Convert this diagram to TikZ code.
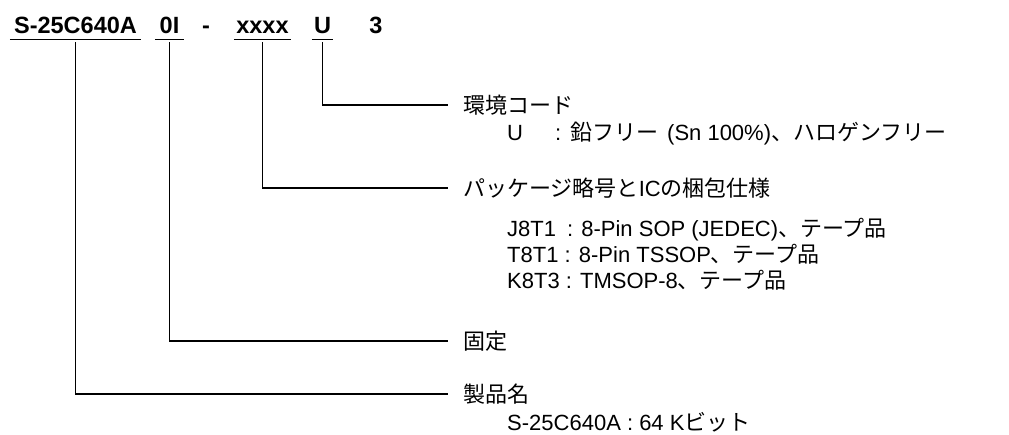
\documentclass[tikz,border=0pt]{standalone}
\usepackage{fontspec}
\setmainfont{Liberation Sans}
\newfontfamily\jp{Noto Sans CJK JP}
\usetikzlibrary{positioning}

\tikzset{
  part/.style={font=\fontsize{23.5}{28}\selectfont\bfseries, inner sep=0pt, anchor=base},
  lbl/.style={font=\fontsize{22}{26}\selectfont, anchor=west, inner ysep=0pt, inner xsep=15pt},
  sub/.style={font=\fontsize{22}{26}\selectfont, anchor=base west, inner sep=0pt},
  lead/.style={line width=1.6pt}
}

\begin{document}
\begin{tikzpicture}[x=1pt,y=-1pt]
\useasboundingbox (0,0) rectangle (1009,434);

% part number
\node[part, minimum width=131pt] (name) at (75.5,33){S-25C640A};
\node[part, minimum width=29pt] (fix) at (169.5,33){0I};
\node[part] (dash) at (206,33){-};
\node[part, minimum width=57pt] (pkg) at (262.5,33){xxxx};
\node[part, minimum width=21pt] (env) at (322.5,33){U};
\node[part] (rev) at (376,33){3};

\foreach \p in {name,fix,pkg,env}
  \draw[lead] ([yshift=-6.5pt]\p.base west) -- ([yshift=-6.5pt]\p.base east);

% labels
\node[lbl] (envl) at (448,105){\jp 環境コード};
\node[sub] (envu) at (507,140){U\hspace{32pt}:\hspace{9pt}{\jp 鉛フリー}\hspace{9pt}(Sn 100\%){\jp 、ハロゲンフリー}};

\node[lbl] (pkgl) at (448,188){{\jp パッケージ略号と}IC{\jp の梱包仕様}};
\node[sub] (pkga) at (507,236){J8T1\hspace{0.5em}: 8-Pin SOP (JEDEC){\jp 、テープ品}};
\node[sub] (pkgb) at (507,262){T8T1 : 8-Pin TSSOP{\jp 、テープ品}};
\node[sub] (pkgc) at (507,288){K8T3 : TMSOP-8{\jp 、テープ品}};

\node[lbl] (fixl) at (448,341){\jp 固定};

\node[lbl] (namel) at (448,394){\jp 製品名};
\node[sub] (namea) at (507,430){S-25C640A : 64 K{\jp ビット}};

% leaders
\draw[lead] ([yshift=-9pt]env.base) |- (envl.west);
\draw[lead] ([yshift=-9pt]pkg.base) |- (pkgl.west);
\draw[lead] ([yshift=-9pt]fix.base) |- (fixl.west);
\draw[lead] ([yshift=-9pt]name.base) |- (namel.west);

\end{tikzpicture}
\end{document}
